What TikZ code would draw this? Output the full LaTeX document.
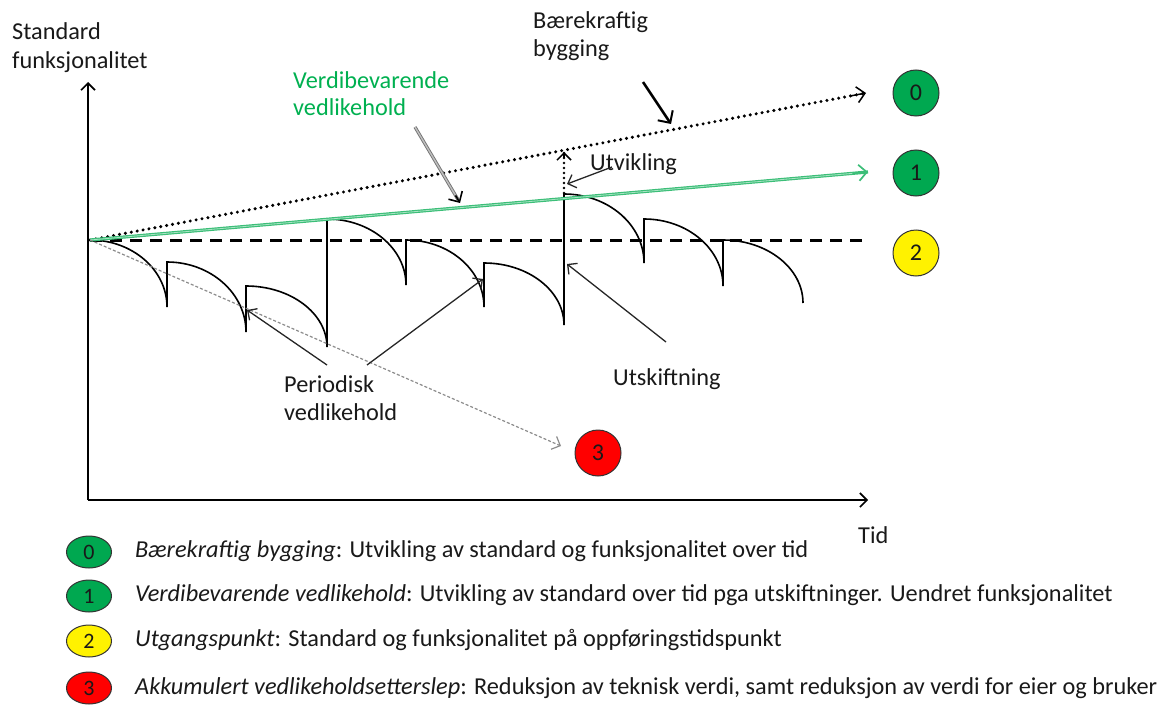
\documentclass[tikz,border=0pt]{standalone}
\usepackage{fontspec}
\setmainfont{Carlito}
\usetikzlibrary{arrows.meta,shapes.geometric,calc}
\definecolor{cgreen}{RGB}{0,168,80}
\definecolor{tgreen}{RGB}{0,176,80}
\definecolor{lgreen}{RGB}{60,190,120}
\definecolor{txt}{RGB}{25,25,25}
\begin{document}
\begin{tikzpicture}[x=1pt,y=-1pt,
  lbl/.style={font=\fontsize{24.3}{29}\selectfont, inner sep=0pt, anchor=base west, text=txt},
  tip/.style={-{Straight Barb[length=7pt,width=14pt]}},
  axis/.style={line width=1.6pt, black, tip},
  saw/.style={line width=1.6pt, black},
  pointer/.style={line width=1.3pt, black!85, tip},
  badge/.style={circle, draw=black!80, line width=1pt, minimum size=46pt, inner sep=0pt, font=\fontsize{24}{24}\selectfont, text=txt},
  legbadge/.style={ellipse, draw=black!80, line width=1pt, minimum width=45pt, minimum height=32pt, inner sep=0pt, font=\fontsize{22}{22}\selectfont, text=txt}
]
\useasboundingbox (0,0) rectangle (1161,706);

% key points
\coordinate (O) at (88,500);
\coordinate (ytop) at (88,82);
\coordinate (xend) at (868,500);
\coordinate (S) at (90,240);
\coordinate (dotEnd) at (866,93);
\coordinate (greenEnd) at (868,172);
\coordinate (dashEnd) at (866,240);
\coordinate (grayEnd) at (561,446);

% axes
\draw[axis] (O) -- (ytop);
\draw[axis] (O) -- (xend);

% sawtooth
\draw[saw] (90,240) .. controls (132.5,240) and (167,270) .. (167,307) -- (167,262)
  .. controls (210.6,262) and (246,293.4) .. (246,332) -- (246,286)
  .. controls (290.7,286) and (327,313.3) .. (327,347) -- (327,219)
  .. controls (370.6,219) and (406,248.6) .. (406,285) -- (406,240)
  .. controls (449.1,240) and (484,270) .. (484,307) -- (484,263)
  .. controls (528.2,263) and (564,290.8) .. (564,325) -- (564,194)
  .. controls (608.2,194) and (644,224.9) .. (644,263) -- (644,219)
  .. controls (687.6,219) and (723,249) .. (723,286) -- (723,240)
  .. controls (767.2,240) and (803,268.2) .. (803,303);

% trend lines
\draw[black, line width=3pt, dash pattern=on 12pt off 8pt] (S) -- (dashEnd);
\draw[black, line width=3.4pt, line cap=round, dash pattern=on 0pt off 6pt] (S) -- (dotEnd);
\draw[black, line width=1.5pt, -{Straight Barb[length=8pt,width=16pt]}] ($(S)!0.98!(dotEnd)$) -- (dotEnd);
\draw[lgreen, line width=3.2pt] (S) -- (greenEnd);
\draw[tgreen!35, line width=0.8pt] (S) -- ($(S)!0.99!(greenEnd)$);
\draw[lgreen, line width=1.7pt, -{Straight Barb[length=8pt,width=16pt]}] ($(S)!0.98!(greenEnd)$) -- (greenEnd);
\draw[black!45, line width=1.2pt, dash pattern=on 3pt off 2pt, -{Straight Barb[length=7pt,width=14pt,line width=1.2pt]}] (S) -- (grayEnd);

% Utvikling dotted arrow
\coordinate (uBot) at (564,193);
\coordinate (uTop) at (564,152);
\draw[black, line width=2.8pt, line cap=round, dash pattern=on 0pt off 5pt] (uBot) -- (uTop);
\draw[black, line width=1.5pt, -{Straight Barb[length=7pt,width=14pt]}] (564,158) -- (uTop);

% badges
\node[badge, fill=cgreen] (c0) at (916,93) {0};
\node[badge, fill=cgreen] (c1) at (916,173) {1};
\node[badge, fill=yellow] (c2) at (916,253) {2};
\node[badge, fill=red] (c3) at (598,453) {3};

% labels
\node[lbl] (std1) at (12,40) {Standard};
\node[lbl] (std2) at (12,69) {funksjonalitet};
\node[lbl] (tid) at (858,543) {Tid};
\node[lbl] (bae1) at (533,29) {Bærekraftig};
\node[lbl] (bae2) at (533,57) {bygging};
\node[lbl, text=tgreen] (ver1) at (293,89) {Verdibevarende};
\node[lbl, text=tgreen] (ver2) at (293,116) {vedlikehold};
\node[lbl] (utv) at (590,170) {Utvikling};
\node[lbl] (per1) at (284,392) {Periodisk};
\node[lbl] (per2) at (284,420) {vedlikehold};
\node[lbl] (uts) at (613,385) {Utskiftning};

% pointers
\coordinate (baeS) at (643,82);
\coordinate (baeE) at (671,124);
\draw[black, line width=2.6pt, -{Straight Barb[length=9pt,width=18pt,line width=2pt]}] (baeS) -- (baeE);

\coordinate (verS) at (415,127);
\coordinate (verE) at (460,203);
\draw[draw=black!55, double=black!25, double distance=1.4pt, line width=0.9pt] (verS) -- ($(verS)!0.96!(verE)$);
\draw[black, line width=1.6pt, -{Straight Barb[length=8pt,width=16pt]}] ($(verS)!0.9!(verE)$) -- (verE);

\coordinate (utvS) at (612,167);
\coordinate (utvE) at (567,184);
\draw[pointer] (utvS) -- (utvE);

\coordinate (perA) at (327,365);
\coordinate (perAE) at (247,310);
\coordinate (perB) at (367,365);
\coordinate (perBE) at (483,279);
\draw[pointer] (perA) -- (perAE);
\draw[pointer] (perB) -- (perBE);

\coordinate (utsS) at (666,342);
\coordinate (utsE) at (567,264);
\draw[pointer] (utsS) -- (utsE);

% legend
\node[legbadge, fill=cgreen] (g0) at (89,552) {0};
\node[legbadge, fill=cgreen] (g1) at (89,596) {1};
\node[legbadge, fill=yellow] (g2) at (89,641) {2};
\node[legbadge, fill=red] (g3) at (89,688) {3};
\node[lbl] (t0) at (135,557) {\textit{Bærekraftig bygging}: Utvikling av standard og funksjonalitet over tid};
\node[lbl] (t1) at (135,601) {\textit{Verdibevarende vedlikehold}: Utvikling av standard over tid pga utskiftninger. Uendret funksjonalitet};
\node[lbl] (t2) at (135,646) {\textit{Utgangspunkt}: Standard og funksjonalitet på oppføringstidspunkt};
\node[lbl] (t3) at (135,694) {\textit{Akkumulert vedlikeholdsetterslep}: Reduksjon av teknisk verdi, samt reduksjon av verdi for eier og bruker};
\end{tikzpicture}
\end{document}
